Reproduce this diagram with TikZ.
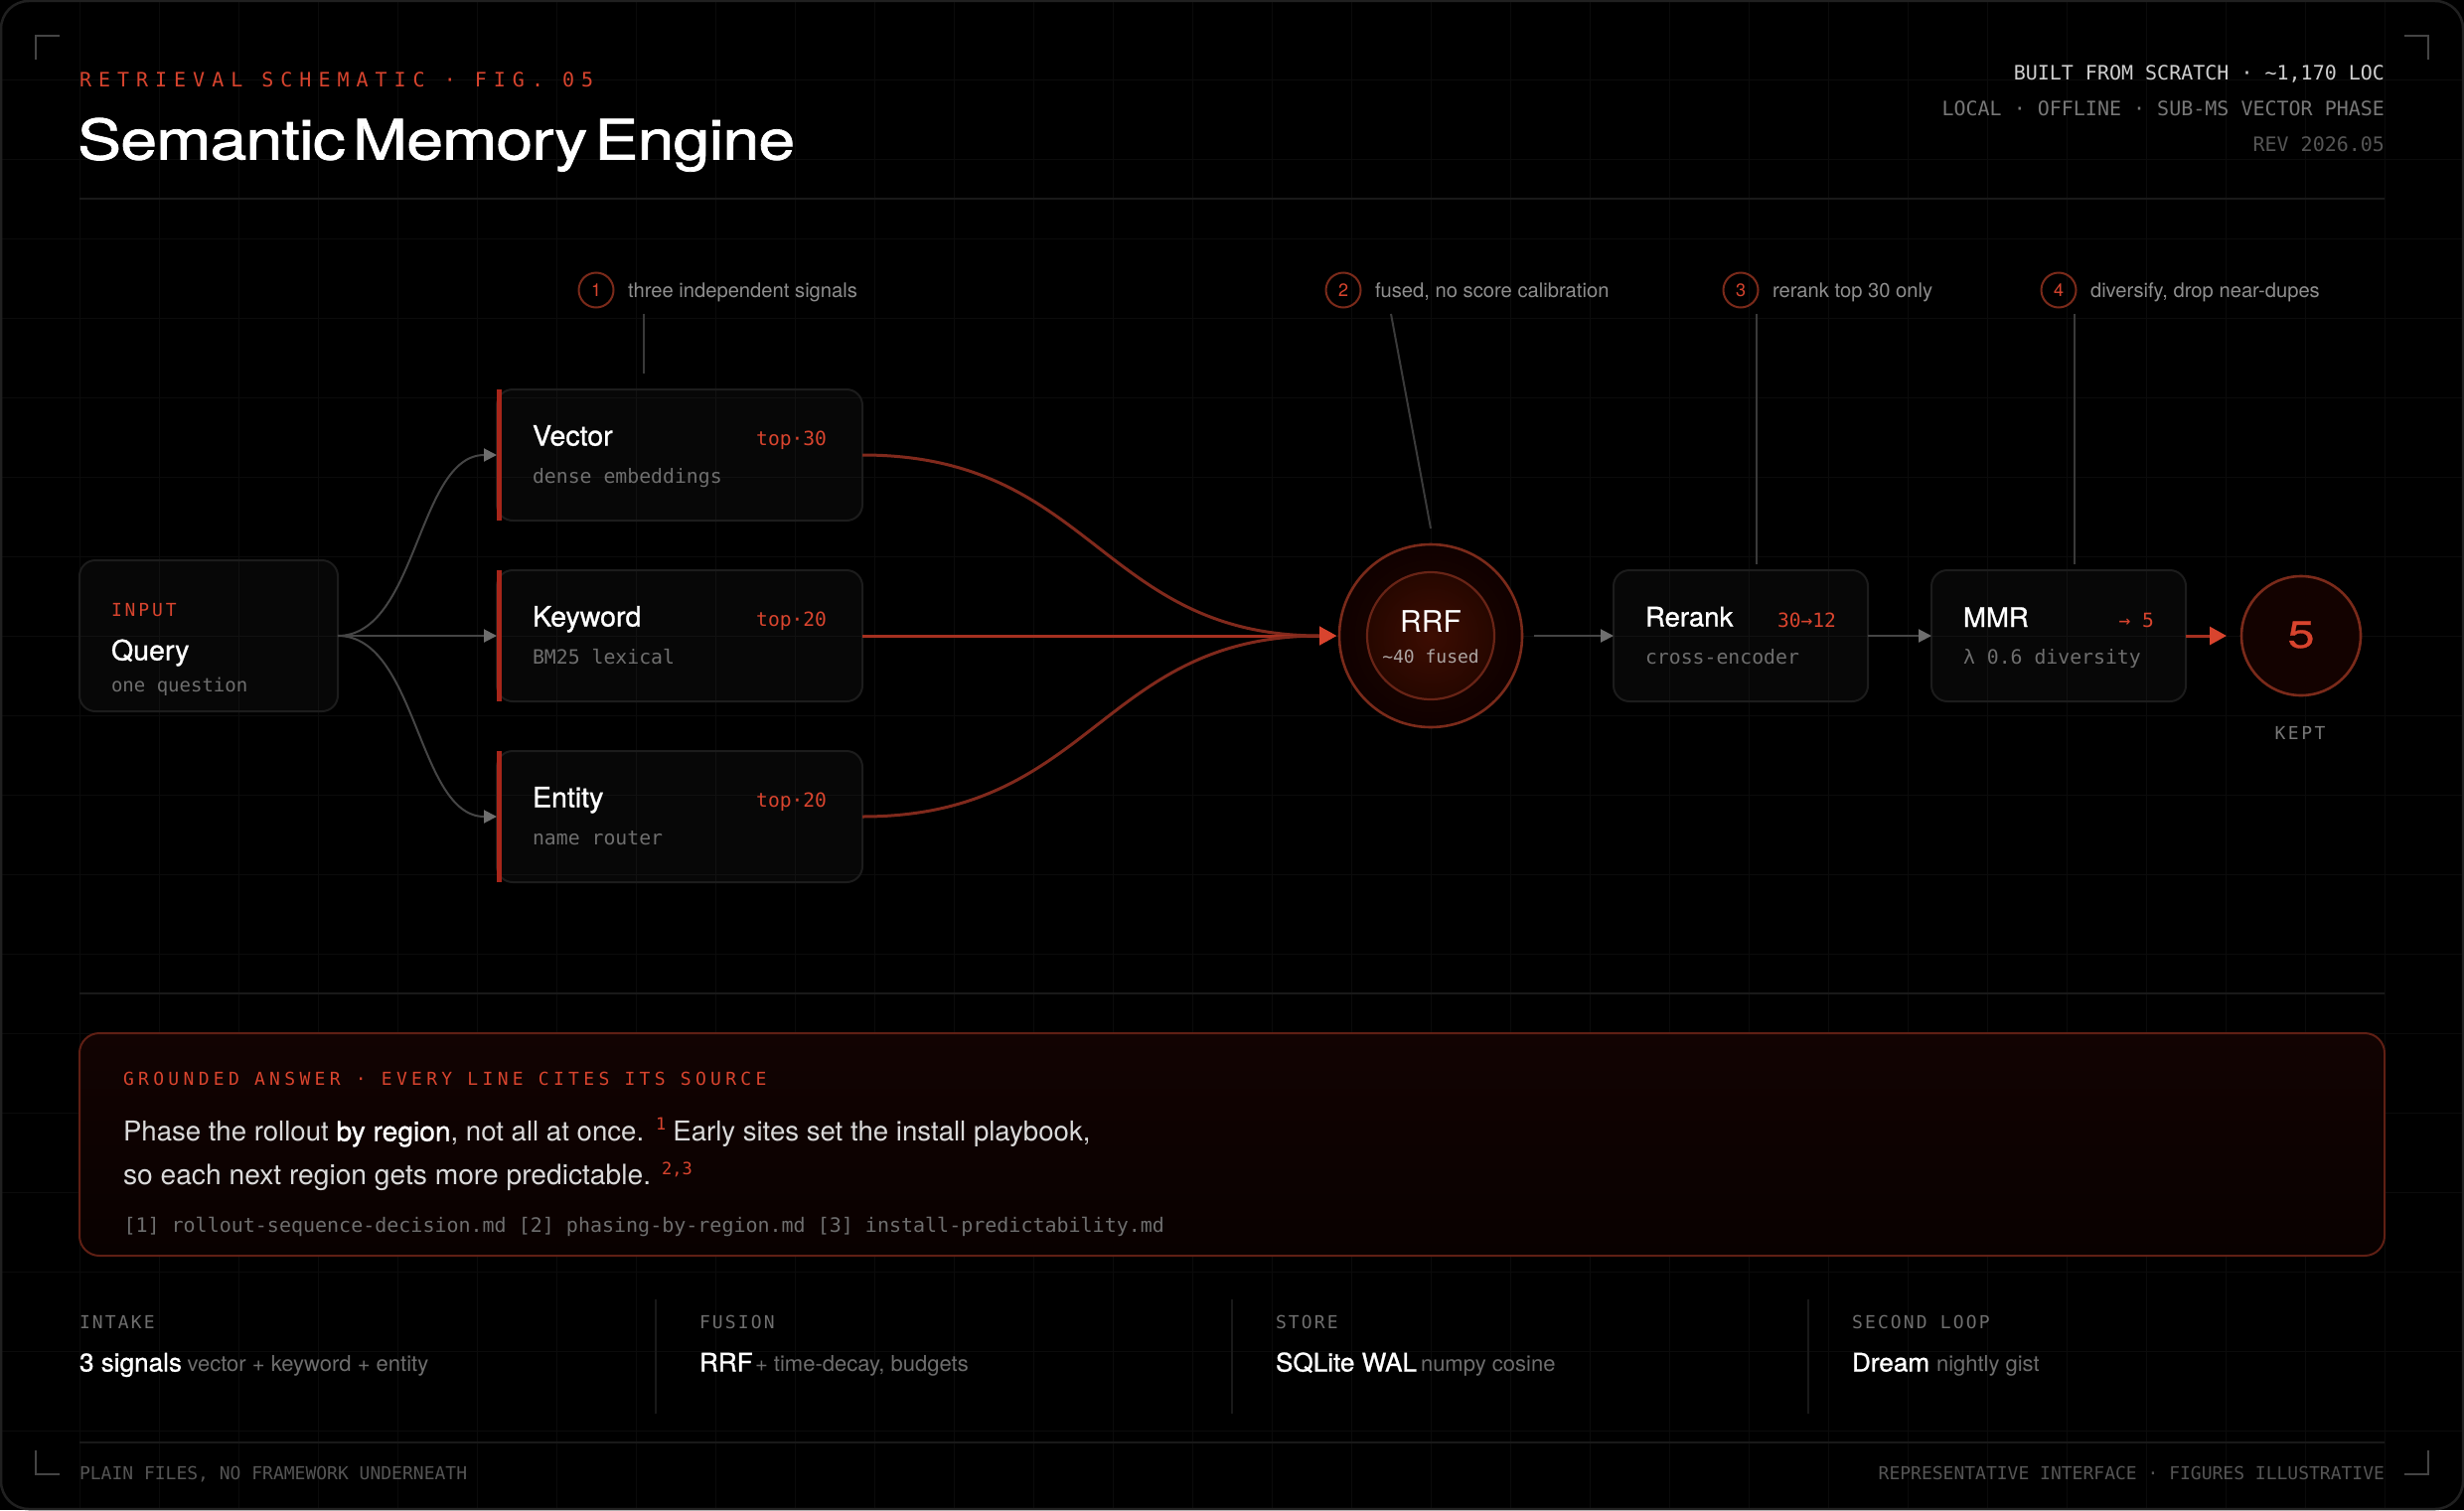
\documentclass[tikz,border=0pt]{standalone}
\usepackage{fontspec}
\usetikzlibrary{arrows.meta}
\setmainfont{TeX Gyre Heros}
\newfontfamily\monof{DejaVu Sans Mono}
\newfontfamily\medf[FakeBold=1,FakeStretch=1.02]{TeX Gyre Heros}
\newfontfamily\titlef[FakeStretch=1.18,FakeBold=1.4,LetterSpace=-1.4,WordSpace=0.4]{TeX Gyre Heros}
\newfontfamily\widef[FakeStretch=1.28,FakeBold=0.8]{TeX Gyre Heros}
\newcommand{\sz}[1]{\fontsize{#1}{#1}\selectfont}
\newcommand{\ms}[2]{\monof\sz{#1}\addfontfeature{LetterSpace=#2}}
\definecolor{ink}{HTML}{FFFFFF}
\definecolor{hot}{HTML}{D8442E}
\definecolor{hotline}{HTML}{80291C}
\definecolor{hotmid}{HTML}{A53020}
\definecolor{ringc}{HTML}{7A2A1A}
\definecolor{barc}{HTML}{A8261A}
\definecolor{edgec}{HTML}{202020}
\definecolor{cardedge}{HTML}{1C1C1C}
\definecolor{rulec}{HTML}{191919}
\definecolor{gridc}{HTML}{0B0B0B}
\definecolor{g3}{HTML}{3A3A3A}
\definecolor{g4}{HTML}{454545}
\definecolor{g5}{HTML}{555555}
\definecolor{g6}{HTML}{6E6E6E}
\definecolor{g7}{HTML}{777777}
\definecolor{g8}{HTML}{8E8E8E}
\definecolor{gc}{HTML}{CFCFCF}
\definecolor{gd}{HTML}{DADADA}
\definecolor{ringouta}{HTML}{1F0400}
\definecolor{ringoutb}{HTML}{100100}
\definecolor{ringina}{HTML}{3D0D02}
\definecolor{ringinb}{HTML}{260700}
\definecolor{keptfill}{HTML}{130200}
\definecolor{paneltop}{HTML}{120302}
\definecolor{panelbot}{HTML}{090100}
\definecolor{paneledge}{HTML}{5F1F14}
\definecolor{fusedc}{HTML}{ADA5A2}
\tikzset{
  txt/.style={inner sep=0pt,outer sep=0pt,anchor=base west,text=ink},
  txtr/.style={inner sep=0pt,outer sep=0pt,anchor=base east,text=ink},
  txtc/.style={inner sep=0pt,outer sep=0pt,anchor=base,text=ink},
  card/.style={draw=cardedge,line width=2pt,rounded corners=16pt,fill=white,fill opacity=0.026,draw opacity=1,anchor=north west,inner sep=0pt,outer sep=0pt},
  badge/.style={circle,draw=ringc,line width=2pt,minimum size=35pt,inner sep=0pt,outer sep=0pt,text=hot,font=\sz{18}},
  rule/.style={draw=rulec,line width=2pt},
  tick/.style={draw=g4,line width=2pt},
  leader/.style={draw=g3,line width=2pt},
  wire/.style={draw=g4,line width=2pt,-{Triangle[length=13pt,width=13pt,color=g6]}},
  hotwire/.style={draw=hotline,line width=3pt,-{Triangle[length=17pt,width=18pt,color=hot]}},
  cardname/.style={txt,font=\sz{28}\medf\sz{28}},
  cardsub/.style={txt,text=g6,font=\ms{19.8}{0}},
  cardcount/.style={txtr,text=hot,font=\ms{19.6}{0}},
  note/.style={txt,text=g8,font=\sz{20.2}},
  statlabel/.style={txt,text=g6,font=\ms{18}{12}},
  statmain/.style={txt,font=\medf\sz{25.6}},
  statrest/.style={txt,text=g6,font=\sz{22}},
}
\begin{document}
\begin{tikzpicture}[x=1pt,y=-1pt]
\useasboundingbox (0,0) rectangle (2480,1520);
\fill[black] (0,0) rectangle (2480,1520);
% grid
\foreach \gx in {80,160,...,2400} \draw[gridc,line width=1pt] (\gx,0) -- (\gx,1520);
\foreach \gy in {80,160,...,1440} \draw[gridc,line width=1pt] (0,\gy) -- (2480,\gy);
% frame
\draw[draw=edgec,line width=2.5pt,rounded corners=28pt] (1,1) rectangle (2479,1519);
% corner ticks
\draw[tick] (60,36) -- (36,36) -- (36,60);
\draw[tick] (2420,36) -- (2444,36) -- (2444,60);
\draw[tick] (36,1460) -- (36,1484) -- (60,1484);
\draw[tick] (2420,1484) -- (2444,1484) -- (2444,1460);
% header
\node[txt,text=hot,font=\ms{20}{35}] (eyebrow) at (80,88) {RETRIEVAL SCHEMATIC · FIG. 05};
\node[txt,font=\sz{56}\titlef\sz{56}] (title) at (78,160.5) {Semantic Memory Engine};
\node[txtr,font=\ms{20}{0},text=gc] (h1) at (2400,80) {BUILT FROM SCRATCH · \char"007E 1,170 LOC};
\node[txtr,font=\ms{20}{0},text=g7] (h2) at (2400,116) {LOCAL · OFFLINE · SUB-MS VECTOR PHASE};
\node[txtr,font=\ms{20}{0},text=g5] (h3) at (2400,152) {REV 2026.05};
\draw[rule] (80,200) -- (2400,200);
\draw[rule] (80,1000) -- (2400,1000);
\draw[rule] (80,1452) -- (2400,1452);
% cards
\node[card,minimum width=260pt,minimum height=152pt] (query) at (80,564) {};
\node[card,minimum width=368pt,minimum height=132pt] (vector) at (500,392) {};
\node[card,minimum width=368pt,minimum height=132pt] (keyword) at (500,574) {};
\node[card,minimum width=368pt,minimum height=132pt] (entity) at (500,756) {};
\node[card,minimum width=256pt,minimum height=132pt] (rerank) at (1624,574) {};
\node[card,minimum width=256pt,minimum height=132pt] (mmr) at (1944,574) {};
\fill[barc] (vector.north west) rectangle ++(5,132);
\fill[barc] (keyword.north west) rectangle ++(5,132);
\fill[barc] (entity.north west) rectangle ++(5,132);
% circles
\node[circle,draw=ringc,line width=2.6pt,minimum size=184pt,inner sep=0pt,outer sep=0pt,inner color=ringouta,outer color=ringoutb] (rrf) at (1440,640) {};
\node[circle,draw=ringc!85!black,line width=2.2pt,minimum size=128pt,inner sep=0pt,outer sep=0pt,inner color=ringina,outer color=ringinb] (rrfin) at (1440,640) {};
\node[circle,draw=ringc,line width=2.6pt,minimum size=120pt,inner sep=0pt,outer sep=0pt,fill=keptfill] (kept) at (2316,640) {};
% query wires
\draw[wire] (query.east) .. controls +(80,0) and +(-80,0) .. (vector.west);
\draw[wire] (query.east) -- (keyword.west);
\draw[wire] (query.east) .. controls +(80,0) and +(-80,0) .. (entity.west);
% hot wires
\draw[hotwire,shorten >=3pt] (vector.east) .. controls +(232,0) and +(-240,0) .. (rrf.west);
\draw[hotwire,draw=hotmid,shorten >=3pt] (keyword.east) -- (rrf.west);
\draw[hotwire,shorten >=3pt] (entity.east) .. controls +(232,0) and +(-240,0) .. (rrf.west);
\coordinate (rrfout) at (1544,640);
\draw[wire] (rrfout) -- (rerank.west);
\draw[wire] (rerank.east) -- (mmr.west);
\draw[hotwire,draw=hotmid,line width=3pt,shorten >=15pt] (mmr.east) -- (kept.west);
% card text
\node[txt,text=hot,font=\ms{18}{16}] (tinput) at (112,620) {INPUT};
\node[cardname] (tquery) at (112,664.5) {Query};
\node[cardsub,font=\ms{19}{0}] (squery) at (112,696.5) {one question};
\node[cardname] (tvector) at (536,448.5) {Vector};
\node[cardcount] (cvector) at (832,448.5) {top·30};
\node[cardsub] (svector) at (536,486.5) {dense embeddings};
\node[cardname] (tkeyword) at (536,630.5) {Keyword};
\node[cardcount] (ckeyword) at (832,630.5) {top·20};
\node[cardsub] (skeyword) at (536,668.5) {BM25 lexical};
\node[cardname] (tentity) at (536,812.5) {Entity};
\node[cardcount] (centity) at (832,812.5) {top·20};
\node[cardsub] (sentity) at (536,850.5) {name router};
\node[cardname,font=\sz{27}\medf\sz{27}] (trerank) at (1656,630.5) {Rerank};
\node[cardcount] (crerank) at (1848,631.5) {30→12};
\node[cardsub] (srerank) at (1656,668.5) {cross-encoder};
\node[cardname,font=\sz{27}\medf\sz{27}] (tmmr) at (1976,631) {MMR};
\node[cardcount] (cmmr) at (2168,631.5) {→ 5};
\node[cardsub] (smmr) at (1976,668.5) {λ 0.6 diversity};
\node[txtc,font=\sz{30}] (trrf) at (1440,636) {RRF};
\node[txtc,text=fusedc,font=\ms{18}{0}] (srrf) at (1440,667.5) {\char"007E 40 fused};
\node[txtc,text=hot,font=\widef\sz{38}] (tkept) at (2316,652) {5};
\node[txtc,text=g7,font=\ms{18}{14}] (skept) at (2315,744.5) {KEPT};
% callouts
\node[badge] (b1) at (600,292) {1};
\node[note] (n1) at (632,299) {three independent signals};
\node[badge] (b2) at (1352,292) {2};
\node[note] (n2) at (1384,299) {fused, no score calibration};
\node[badge] (b3) at (1752,292) {3};
\node[note] (n3) at (1784,299) {rerank top 30 only};
\node[badge] (b4) at (2072,292) {4};
\node[note] (n4) at (2104,299) {diversify, drop near-dupes};
\coordinate (l1a) at (648,316); \coordinate (l1b) at (648,376);
\coordinate (l2a) at (1400,316); \coordinate (l2b) at (1440,532);
\coordinate (l3a) at (1768,316); \coordinate (l3b) at (1768,568);
\coordinate (l4a) at (2088,316); \coordinate (l4b) at (2088,568);
\draw[leader] (l1a) -- (l1b);
\draw[leader] (l2a) -- (l2b);
\draw[leader] (l3a) -- (l3b);
\draw[leader] (l4a) -- (l4b);
% answer panel
\node[rounded corners=20pt,draw=paneledge,line width=2pt,anchor=north west,minimum width=2320pt,minimum height=224pt,inner sep=0pt,outer sep=0pt,top color=paneltop,bottom color=panelbot] (answer) at (80,1040) {};
\node[txt,text=hot,font=\ms{18}{24}] (alabel) at (124,1092) {GROUNDED ANSWER · EVERY LINE CITES ITS SOURCE};
\node[txt,text=gd,font=\sz{27.6}] (a1) at (124,1148.5) {Phase the rollout {\medf\sz{27.6}\textcolor{white}{by region}}, not all at once.\kern12pt\raisebox{11pt}{\ms{17}{0}\textcolor{hot}{1}}\kern7pt Early sites set the install playbook,};
\node[txt,text=gd,font=\sz{28.2}] (a2) at (124,1192.5) {so each next region gets more predictable.\kern11pt\raisebox{10pt}{\ms{17}{0}\textcolor{hot}{2,3}}};
\node[txt,text=g6,font=\ms{20}{0}] (a3) at (124.5,1240.5) {[1] rollout-sequence-decision.md [2] phasing-by-region.md [3] install-predictability.md};
% stats
\draw[rule] (660,1308) -- (660,1423);
\draw[rule] (1240,1308) -- (1240,1423);
\draw[rule] (1820,1308) -- (1820,1423);
\node[statlabel] (s1) at (80,1337) {INTAKE};
\node[statmain] (v1) at (80,1380.5) {3 signals};
\node[statrest] (r1) at (188.5,1380.5) {vector + keyword + entity};
\node[statlabel] (s2) at (704,1337) {FUSION};
\node[statmain] (v2) at (704,1380.5) {RRF};
\node[statrest] (r2) at (760,1380.5) {+ time-decay, budgets};
\node[statlabel] (s3) at (1284,1337) {STORE};
\node[statmain] (v3) at (1284,1380.5) {SQLite WAL};
\node[statrest] (r3) at (1430,1380.5) {numpy cosine};
\node[statlabel] (s4) at (1864,1337) {SECOND LOOP};
\node[statmain] (v4) at (1864,1380.5) {Dream};
\node[statrest] (r4) at (1949,1380.5) {nightly gist};
% footer
\node[txt,text=g5,font=\ms{18}{0}] (f1) at (80,1489) {PLAIN FILES, NO FRAMEWORK UNDERNEATH};
\node[txtr,text=g5,font=\ms{18}{0}] (f2) at (2400,1489) {REPRESENTATIVE INTERFACE · FIGURES ILLUSTRATIVE};
\end{tikzpicture}
\end{document}
